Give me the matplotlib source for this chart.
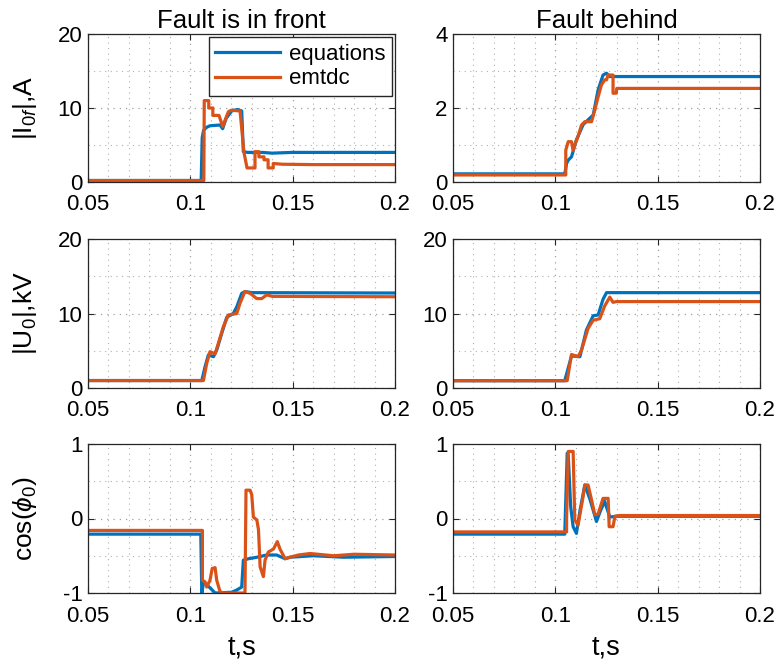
import matplotlib
matplotlib.use("Agg")
import matplotlib.pyplot as plt
from matplotlib.ticker import MultipleLocator

plt.rcParams['font.family'] = ['Liberation Sans', 'DejaVu Sans']
plt.rcParams['mathtext.fontset'] = 'custom'
plt.rcParams['mathtext.rm'] = 'Liberation Sans'
plt.rcParams['mathtext.it'] = 'Liberation Sans:italic'
plt.rcParams['axes.unicode_minus'] = False

BLUE = '#0072BD'
ORANGE = '#D95319'

col_titles = ['Fault is in front', 'Fault behind']
row_labels = [r'|I$_{0f}$|,A', r'|U$_0$|,kV', r'cos($\phi_0$)']
legend_labels = ['equations', 'emtdc']

# ---- Row 1: |I0f|, A ----
t_i_front_eq = [0.05, 0.1053, 0.1058, 0.1065, 0.1080, 0.1096, 0.1145, 0.1158, 0.1175, 0.1202, 0.1230, 0.1251, 0.1259, 0.128, 0.135, 0.14, 0.15, 0.16, 0.18, 0.2]
i_front_eq = [0.2, 0.2, 6.0, 7.0, 7.4, 7.6, 7.7, 7.2, 8.6, 9.6, 9.8, 9.6, 4.1, 4.0, 4.0, 3.9, 4.0, 4.0, 4.0, 4.0]
t_i_front_em = [0.05, 0.1066, 0.1068, 0.1090, 0.1090, 0.1110, 0.1110, 0.1140, 0.1158, 0.1186, 0.1200, 0.1243, 0.1262, 0.1277, 0.1300, 0.1316, 0.1316, 0.1335, 0.1335, 0.136, 0.136, 0.138, 0.138, 0.1405, 0.1405, 0.145, 0.16, 0.2]
i_front_em = [0.2, 0.2, 11.0, 11.0, 10.0, 10.0, 9.0, 9.0, 7.5, 9.5, 9.7, 9.6, 4.0, 1.9, 1.9, 1.9, 4.1, 4.1, 3.4, 3.4, 3.0, 3.0, 1.9, 1.9, 2.5, 2.4, 2.35, 2.35]
t_i_behind_eq = [0.05, 0.1046, 0.1055, 0.1063, 0.1079, 0.1103, 0.1136, 0.1160, 0.1185, 0.1209, 0.1233, 0.1250, 0.1266, 0.2]
i_behind_eq = [0.22, 0.22, 0.5, 0.59, 0.68, 1.14, 1.55, 1.68, 1.81, 2.49, 2.89, 2.94, 2.85, 2.85]
t_i_behind_em = [0.05, 0.1051, 0.1051, 0.1063, 0.1079, 0.1087, 0.1095, 0.1111, 0.1128, 0.1144, 0.1177, 0.1193, 0.1209, 0.1225, 0.1241, 0.1250, 0.1258, 0.1282, 0.1282, 0.1298, 0.1300, 0.2]
i_behind_em = [0.19, 0.19, 0.86, 1.09, 1.09, 0.86, 1.0, 1.23, 1.54, 1.63, 1.63, 1.95, 2.3, 2.62, 2.76, 2.76, 2.89, 2.89, 2.4, 2.4, 2.53, 2.53]

# ---- Row 2: |U0|, kV ----
t_u_front_eq = [0.05, 0.1056, 0.1072, 0.1088, 0.1113, 0.1129, 0.1153, 0.1178, 0.1210, 0.1227, 0.1251, 0.1267, 0.13, 0.2]
u_front_eq = [1.0, 1.0, 2.86, 4.43, 4.2, 5.1, 7.3, 9.5, 10.0, 10.9, 12.7, 12.95, 12.8, 12.75]
t_u_front_em = [0.05, 0.1064, 0.1080, 0.1096, 0.1121, 0.1137, 0.1161, 0.1186, 0.1227, 0.1243, 0.1267, 0.1292, 0.1325, 0.1349, 0.1373, 0.14, 0.2]
u_front_em = [1.0, 1.0, 3.3, 4.87, 4.6, 6.0, 8.2, 9.8, 10.0, 11.4, 12.95, 12.7, 12.0, 12.0, 12.5, 12.3, 12.25]
t_u_behind_eq = [0.05, 0.1046, 0.1079, 0.1120, 0.1152, 0.1185, 0.1209, 0.1233, 0.1250, 0.2]
u_behind_eq = [0.98, 0.98, 4.3, 4.2, 7.8, 9.7, 9.8, 11.9, 12.8, 12.8]
t_u_behind_em = [0.05, 0.1058, 0.1079, 0.1111, 0.1128, 0.1160, 0.1185, 0.1217, 0.1241, 0.1266, 0.1282, 0.1299, 0.2]
u_behind_em = [0.98, 0.98, 4.5, 4.2, 5.1, 8.0, 9.1, 9.3, 11.0, 12.2, 11.5, 11.6, 11.6]

# ---- Row 3: cos(phi0) ----
t_c_front_eq = [0.05, 0.1051, 0.1056, 0.1064, 0.1072, 0.1096, 0.1121, 0.1202, 0.1227, 0.1251, 0.1259, 0.1284, 0.1325, 0.1373, 0.1422, 0.1463, 0.1487, 0.16, 0.175, 0.2]
c_front_eq = [-0.21, -0.21, -1.0, -0.87, -0.87, -0.93, -1.0, -0.99, -0.96, -0.92, -0.56, -0.54, -0.52, -0.49, -0.49, -0.54, -0.52, -0.50, -0.52, -0.51]
t_c_front_em = [0.05, 0.1059, 0.1059, 0.1072, 0.1080, 0.1096, 0.1107, 0.1121, 0.1129, 0.1145, 0.1161, 0.1267, 0.1272, 0.1292, 0.1300, 0.1308, 0.1325, 0.1333, 0.1341, 0.1357, 0.1365, 0.1381, 0.1406, 0.1425, 0.1438, 0.1463, 0.1487, 0.1528, 0.1585, 0.17, 0.18, 0.2]
c_front_em = [-0.16, -0.16, -0.83, -0.85, -0.92, -0.83, -0.67, -0.66, -0.83, -0.98, -1.0, -1.0, 0.38, 0.38, 0.32, 0.02, -0.02, -0.15, -0.65, -0.78, -0.56, -0.45, -0.41, -0.31, -0.41, -0.54, -0.52, -0.49, -0.47, -0.50, -0.48, -0.49]
t_c_behind_eq = [0.05, 0.1046, 0.1058, 0.1063, 0.1075, 0.1087, 0.1103, 0.1120, 0.1144, 0.1170, 0.1201, 0.1220, 0.1241, 0.1266, 0.13, 0.2]
c_behind_eq = [-0.21, -0.21, 0.875, 0.85, 0.16, -0.11, -0.2, 0.1, 0.45, 0.25, -0.04, 0.1, 0.23, 0.02, 0.03, 0.03]
t_c_behind_em = [0.05, 0.1055, 0.1055, 0.1063, 0.1087, 0.1095, 0.1111, 0.1136, 0.1144, 0.1160, 0.1177, 0.1193, 0.1209, 0.1233, 0.1258, 0.1263, 0.1282, 0.1291, 0.1315, 0.2]
c_behind_em = [-0.18, -0.18, 0.0, 0.9, 0.9, -0.02, -0.09, 0.3, 0.45, 0.45, 0.25, 0.05, 0.06, 0.27, 0.27, -0.11, -0.11, 0.03, 0.04, 0.04]

series = [
    [((t_i_front_eq, i_front_eq), (t_i_front_em, i_front_em)),
     ((t_i_behind_eq, i_behind_eq), (t_i_behind_em, i_behind_em))],
    [((t_u_front_eq, u_front_eq), (t_u_front_em, u_front_em)),
     ((t_u_behind_eq, u_behind_eq), (t_u_behind_em, u_behind_em))],
    [((t_c_front_eq, c_front_eq), (t_c_front_em, c_front_em)),
     ((t_c_behind_eq, c_behind_eq), (t_c_behind_em, c_behind_em))],
]

ylims = [[(0, 20), (0, 4)], [(0, 20), (0, 20)], [(-1, 1), (-1, 1)]]
ymajor = [[10, 2], [10, 10], [1, 1]]
xticks = [0.05, 0.1, 0.15, 0.2]
xticklabels = ['0.05', '0.1', '0.15', '0.2']

fig = plt.figure(figsize=(7.78, 6.66), dpi=100)
W, H = 778, 666
col_x = [88, 453]
ax_w = 307
row_y = [(34, 182), (239, 388), (444, 593)]
DOTS = (0, (1, 4))

for r in range(3):
    for c in range(2):
        y0, y1 = row_y[r]
        ax = fig.add_axes([col_x[c] / W, 1 - y1 / H, ax_w / W, (y1 - y0) / H])
        (te, ve), (tm, vm) = series[r][c]
        ax.plot(te, ve, color=BLUE, lw=2.3, label=legend_labels[0])
        ax.plot(tm, vm, color=ORANGE, lw=2.3, label=legend_labels[1])
        ax.set_xlim(0.05, 0.2)
        ax.set_ylim(*ylims[r][c])
        ax.set_xticks(xticks)
        ax.set_xticklabels(xticklabels)
        ax.yaxis.set_major_locator(MultipleLocator(ymajor[r][c]))
        ax.yaxis.set_minor_locator(MultipleLocator(ymajor[r][c] / 2))
        ax.xaxis.set_minor_locator(MultipleLocator(0.01))
        ax.grid(True, which='major', linestyle=DOTS, color='#a0a0a0', lw=0.9)
        ax.grid(True, which='minor', linestyle=DOTS, color='#b0b0b0', lw=0.8)
        ax.tick_params(which='both', direction='in', top=True, right=True,
                       labelsize=16, length=4, width=0.8, color='#262626')
        ax.tick_params(axis='y', pad=4)
        ax.tick_params(axis='x', pad=9)
        ax.tick_params(which='minor', length=0)
        for s in ax.spines.values():
            s.set_color('#262626')
            s.set_linewidth(0.9)
        if c == 0:
            ax.set_ylabel(row_labels[r], fontsize=19)
            ax.yaxis.set_label_coords(-0.16, 0.5)
        if r == 0:
            ax.set_title(col_titles[c], fontsize=18.5, pad=4)
        if r == 2:
            ax.set_xlabel('t,s', fontsize=19.5)
            ax.xaxis.set_label_coords(0.5, -0.28)
        if r == 0 and c == 0:
            ax.legend(loc='upper right', fontsize=16, frameon=True, fancybox=False,
                      edgecolor='#262626', handlelength=2.9, borderaxespad=0.15,
                      labelspacing=0.15, borderpad=0.3, handletextpad=0.4,
                      framealpha=1)

fig.savefig('out.png', dpi=100)
